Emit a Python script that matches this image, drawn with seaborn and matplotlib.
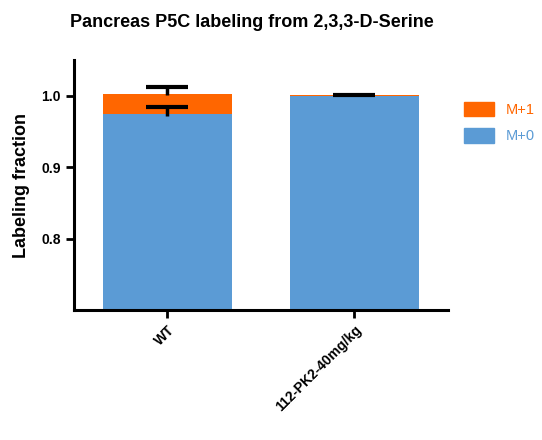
import seaborn as sns
import matplotlib.pyplot as plt
from matplotlib.patches import Patch
import pandas as pd

# valores
groups = ["WT", "112-PK2-40mg/kg"]
m0 = [0.975, 0.999]
m1 = [0.028, 0.002]
m0_err = [0.009, 0.0]
m1_err = [0.009, 0.0004]

orange = "#FF6600"
blue = "#5B9BD5"

sns.set_style("ticks")
plt.rcParams["font.family"] = ["Liberation Sans", "DejaVu Sans"]
plt.rcParams["text.color"] = "black"
plt.rcParams["axes.labelcolor"] = "black"
plt.rcParams["xtick.color"] = "black"
plt.rcParams["ytick.color"] = "black"
plt.rcParams["axes.edgecolor"] = "black"

df = pd.DataFrame({"group": groups, "m0": m0, "total": [a + b for a, b in zip(m0, m1)]})

fig = plt.figure(figsize=(5.42, 4.4), dpi=100)
ax = fig.add_axes([0.1365, 0.2955, 0.69, 0.568])

sns.barplot(data=df, x="group", y="total", color=orange, width=0.69, saturation=1,
            linewidth=0, ax=ax)
sns.barplot(data=df, x="group", y="m0", color=blue, width=0.69, saturation=1,
            linewidth=0, ax=ax)

# barras de error (solo la tapa de arriba, como en Prism)
def barra_error(x, y, lo, hi):
    _, caps, _ = ax.errorbar(x, y, yerr=[[lo], [hi]], fmt="none", ecolor="black",
                             elinewidth=2.5, capsize=15, capthick=3)
    caps[0].set_visible(False)

for i in range(len(groups)):
    barra_error(i, df["total"][i], 0.0015, m1_err[i])
    if m0_err[i] > 0:
        barra_error(i, m0[i], 0.003, m0_err[i])

ax.set_ylim(0.7, 1.05)
ax.set_xlim(-0.5, 1.5)
ax.set_yticks([0.8, 0.9, 1.0])
ax.set_yticklabels(["0.8", "0.9", "1.0"], fontweight="bold", fontsize=10)
ax.set_xticks(range(len(groups)))
ax.set_xticklabels(groups, rotation=45, ha="right", rotation_mode="anchor",
                   fontweight="bold", fontsize=10)
ax.set_xlabel("")
ax.set_ylabel("Labeling fraction", fontweight="bold", fontsize=13, labelpad=8)
ax.set_title("Pancreas P5C labeling from 2,3,3-D-Serine", fontweight="bold",
             fontsize=13, x=0.476, pad=24)

for s in ["left", "bottom"]:
    ax.spines[s].set_linewidth(2.2)
sns.despine(ax=ax)
ax.tick_params(width=2, length=6, direction="out")

handles = [Patch(color=orange, label="M+1"), Patch(color=blue, label="M+0")]
ax.legend(handles=handles, loc="upper left", bbox_to_anchor=(1.015, 0.875), frameon=False,
          labelcolor=[orange, blue], fontsize=10.5, handlelength=2.1, handleheight=1.2,
          handletextpad=0.8, labelspacing=0.75, borderaxespad=0.3)

plt.savefig("out.png", dpi=100)
